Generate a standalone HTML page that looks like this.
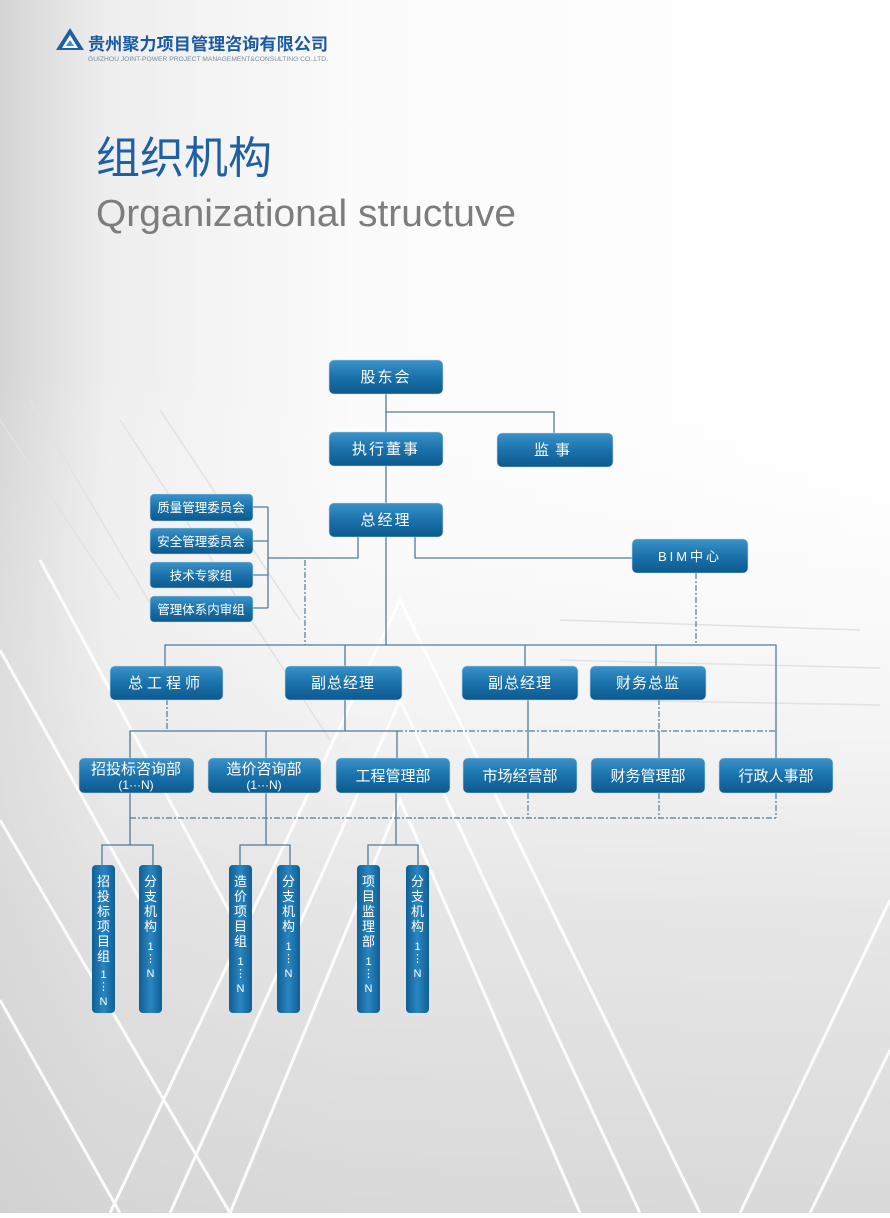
<!DOCTYPE html>
<html><head><meta charset="utf-8"><style>
html,body{margin:0;padding:0;}
body{width:890px;height:1213px;overflow:hidden;font-family:"Liberation Sans","Noto Sans CJK SC",sans-serif;}
</style></head><body>
<svg width="890" height="1213" viewBox="0 0 890 1213" xmlns="http://www.w3.org/2000/svg" font-family="Liberation Sans, Noto Sans CJK SC, sans-serif">
<defs>
<linearGradient id="bg" x1="0" y1="0" x2="1" y2="0">
<stop offset="0" stop-color="#d4d4d4"/><stop offset="0.12" stop-color="#eeeeee"/><stop offset="0.4" stop-color="#fbfbfb"/><stop offset="1" stop-color="#ffffff"/></linearGradient>
<linearGradient id="bgv" x1="0" y1="0" x2="0" y2="1">
<stop offset="0" stop-color="#fff" stop-opacity="0"/><stop offset="0.3" stop-color="#fff" stop-opacity="0"/><stop offset="0.75" stop-color="#dcdcdc" stop-opacity="0.7"/><stop offset="1" stop-color="#d0d0d0" stop-opacity="0.8"/></linearGradient>
<linearGradient id="bx" x1="0" y1="0" x2="0" y2="1">
<stop offset="0" stop-color="#3a93c9"/><stop offset="0.5" stop-color="#1b72ab"/><stop offset="1" stop-color="#0c5a8f"/></linearGradient>
<linearGradient id="bxv" x1="0" y1="0" x2="1" y2="0">
<stop offset="0" stop-color="#0f5f95"/><stop offset="0.5" stop-color="#2a86c0"/><stop offset="1" stop-color="#0f5f95"/></linearGradient>
</defs>
<rect width="890" height="1213" fill="url(#bg)"/>
<rect width="890" height="1213" fill="url(#bgv)"/>
<g stroke="#ffffff" stroke-width="3" fill="none" opacity="0.9">
<path d="M110 1213 L400 600 L700 1213"/><path d="M170 1213 L400 700 L640 1213"/>
<path d="M230 1213 L400 800 L580 1213"/><path d="M0 820 L230 1213"/><path d="M0 1000 L120 1213"/>
<path d="M890 900 L740 1213"/><path d="M890 1050 L810 1213"/>
<path d="M0 650 L140 900"/><path d="M40 560 L250 950"/>
</g>
<g stroke="#e2e2e2" stroke-width="1.5" fill="none">
<path d="M0 420 L120 600"/><path d="M30 400 L160 620"/><path d="M120 420 L330 740"/><path d="M160 410 L300 620"/>
<path d="M560 620 L860 630"/><path d="M560 660 L880 668"/><path d="M600 700 L880 705"/>
</g>
<!-- logo -->
<path d="M56 50 L70 28 L84 50 Z" fill="#1e5f9e"/><path d="M62 48 L70 35 L78 48 Z" fill="#fff"/><path d="M66 46 L70 40 L74 46 Z" fill="#3a8fcf"/>
<text x="88" y="50" font-size="17" font-weight="bold" fill="#1b5aa0" textLength="240" lengthAdjust="spacingAndGlyphs">贵州聚力项目管理咨询有限公司</text>
<text x="88" y="61" font-size="6" fill="#7a8a99" textLength="240" lengthAdjust="spacingAndGlyphs">GUIZHOU JOINT-POWER PROJECT MANAGEMENT&amp;CONSULTING CO.,LTD.</text>
<text x="96" y="173" font-size="44" fill="#1f5fa6" font-family="Noto Sans CJK SC, sans-serif">组织机构</text>
<text x="96" y="226" font-size="38" fill="#7d7d7d" textLength="420" lengthAdjust="spacingAndGlyphs">Qrganizational structuve</text>
<!-- connectors -->
<g stroke="#4d7d99" stroke-width="1.3" fill="none">
<path d="M386 393 V432 M386 412 H554 V433 M386 466 V503"/>
<path d="M386 537 V645 M415 537 V558 H632"/>
<path d="M253 507 H268 M253 541 H268 M253 575 H268 M253 608 H268 M268 507 V608 M268 558 H358 V537"/>
<path d="M165 666 V645 H776 V758 M345 645 V666 M525 645 V666 M656 645 V666"/>
<path d="M130 758 V731 H397 V758 M266 731 V758 M345 699 V731 M528 699 V758 M659 731 V758"/>
<path d="M130 793 V845 M102 865 V845 H153 V865"/>
<path d="M266 793 V845 M240 865 V845 H290 V865"/>
<path d="M396 793 V845 M368 865 V845 H418 V865"/>
</g>
<g stroke="#4d7d99" stroke-width="1.2" fill="none" stroke-dasharray="6 2 2 2">
<path d="M305 560 V645 M696 573 V645"/>
<path d="M167 699 V731 M397 731 H776 M659 699 V731"/>
<path d="M130 818 H776 M528 793 V818 M659 793 V818 M776 793 V818"/>
</g>
<!-- boxes -->
<g fill="url(#bx)" stroke="#c8d8e4" stroke-width="0.6">
<rect x="329" y="360" width="114" height="34" rx="5"/>
<rect x="329" y="432" width="114" height="34" rx="5"/>
<rect x="497" y="433" width="116" height="34" rx="5"/>
<rect x="329" y="503" width="114" height="34" rx="5"/>
<rect x="632" y="539" width="116" height="34" rx="5"/>
<rect x="150" y="494" width="103" height="27" rx="4"/>
<rect x="150" y="528" width="103" height="26" rx="4"/>
<rect x="150" y="562" width="103" height="26" rx="4"/>
<rect x="150" y="596" width="103" height="26" rx="4"/>
<rect x="110" y="666" width="113" height="34" rx="5"/>
<rect x="285" y="666" width="117" height="34" rx="5"/>
<rect x="462" y="666" width="116" height="34" rx="5"/>
<rect x="590" y="666" width="116" height="34" rx="5"/>
<rect x="79" y="758" width="115" height="35" rx="5"/>
<rect x="208" y="758" width="113" height="35" rx="5"/>
<rect x="336" y="758" width="114" height="35" rx="5"/>
<rect x="463" y="758" width="114" height="35" rx="5"/>
<rect x="591" y="758" width="114" height="35" rx="5"/>
<rect x="719" y="758" width="114" height="35" rx="5"/>
</g>
<g fill="url(#bxv)">
<rect x="92" y="865" width="23" height="148" rx="4"/>
<rect x="139" y="865" width="23" height="148" rx="4"/>
<rect x="229" y="865" width="23" height="148" rx="4"/>
<rect x="277" y="865" width="23" height="148" rx="4"/>
<rect x="357" y="865" width="23" height="148" rx="4"/>
<rect x="406" y="865" width="23" height="148" rx="4"/>
</g>
<g fill="#ffffff" text-anchor="middle" font-size="15">
<text x="386" y="382" letter-spacing="2">股东会</text>
<text x="386" y="454" letter-spacing="2">执行董事</text>
<text x="555" y="455" letter-spacing="6">监事</text>
<text x="386" y="525" letter-spacing="2">总经理</text>
<text x="690" y="561" font-size="13" letter-spacing="3">BIM中心</text>
<text x="201" y="512" font-size="12.5">质量管理委员会</text>
<text x="201" y="546" font-size="12.5">安全管理委员会</text>
<text x="201" y="580" font-size="12.5">技术专家组</text>
<text x="201" y="614" font-size="12.5">管理体系内审组</text>
<text x="166" y="688" letter-spacing="4">总工程师</text>
<text x="343" y="688" letter-spacing="1">副总经理</text>
<text x="520" y="688" letter-spacing="1">副总经理</text>
<text x="648" y="688" letter-spacing="1">财务总监</text>
<text x="136" y="774">招投标咨询部</text><text x="136" y="789" font-size="12">(1···N)</text>
<text x="264" y="774">造价咨询部</text><text x="264" y="789" font-size="12">(1···N)</text>
<text x="393" y="781">工程管理部</text>
<text x="520" y="781">市场经营部</text>
<text x="648" y="781">财务管理部</text>
<text x="776" y="781">行政人事部</text>
</g>
<g fill="#ffffff" text-anchor="middle" font-size="13">
<text x="103.5" y="886">招</text><text x="103.5" y="901">投</text><text x="103.5" y="916">标</text><text x="103.5" y="931">项</text><text x="103.5" y="946">目</text><text x="103.5" y="961">组</text><text x="103.5" y="978" font-size="11">1</text><text x="103.5" y="990" font-size="11">⋮</text><text x="103.5" y="1005" font-size="11">N</text>
<text x="150.5" y="886">分</text><text x="150.5" y="901">支</text><text x="150.5" y="916">机</text><text x="150.5" y="931">构</text><text x="150.5" y="950" font-size="11">1</text><text x="150.5" y="962" font-size="11">⋮</text><text x="150.5" y="977" font-size="11">N</text>
<text x="240.5" y="886">造</text><text x="240.5" y="901">价</text><text x="240.5" y="916">项</text><text x="240.5" y="931">目</text><text x="240.5" y="946">组</text><text x="240.5" y="965" font-size="11">1</text><text x="240.5" y="977" font-size="11">⋮</text><text x="240.5" y="992" font-size="11">N</text>
<text x="288.5" y="886">分</text><text x="288.5" y="901">支</text><text x="288.5" y="916">机</text><text x="288.5" y="931">构</text><text x="288.5" y="950" font-size="11">1</text><text x="288.5" y="962" font-size="11">⋮</text><text x="288.5" y="977" font-size="11">N</text>
<text x="368.5" y="886">项</text><text x="368.5" y="901">目</text><text x="368.5" y="916">监</text><text x="368.5" y="931">理</text><text x="368.5" y="946">部</text><text x="368.5" y="965" font-size="11">1</text><text x="368.5" y="977" font-size="11">⋮</text><text x="368.5" y="992" font-size="11">N</text>
<text x="417.5" y="886">分</text><text x="417.5" y="901">支</text><text x="417.5" y="916">机</text><text x="417.5" y="931">构</text><text x="417.5" y="950" font-size="11">1</text><text x="417.5" y="962" font-size="11">⋮</text><text x="417.5" y="977" font-size="11">N</text>
</g>
</svg>
</body></html>
